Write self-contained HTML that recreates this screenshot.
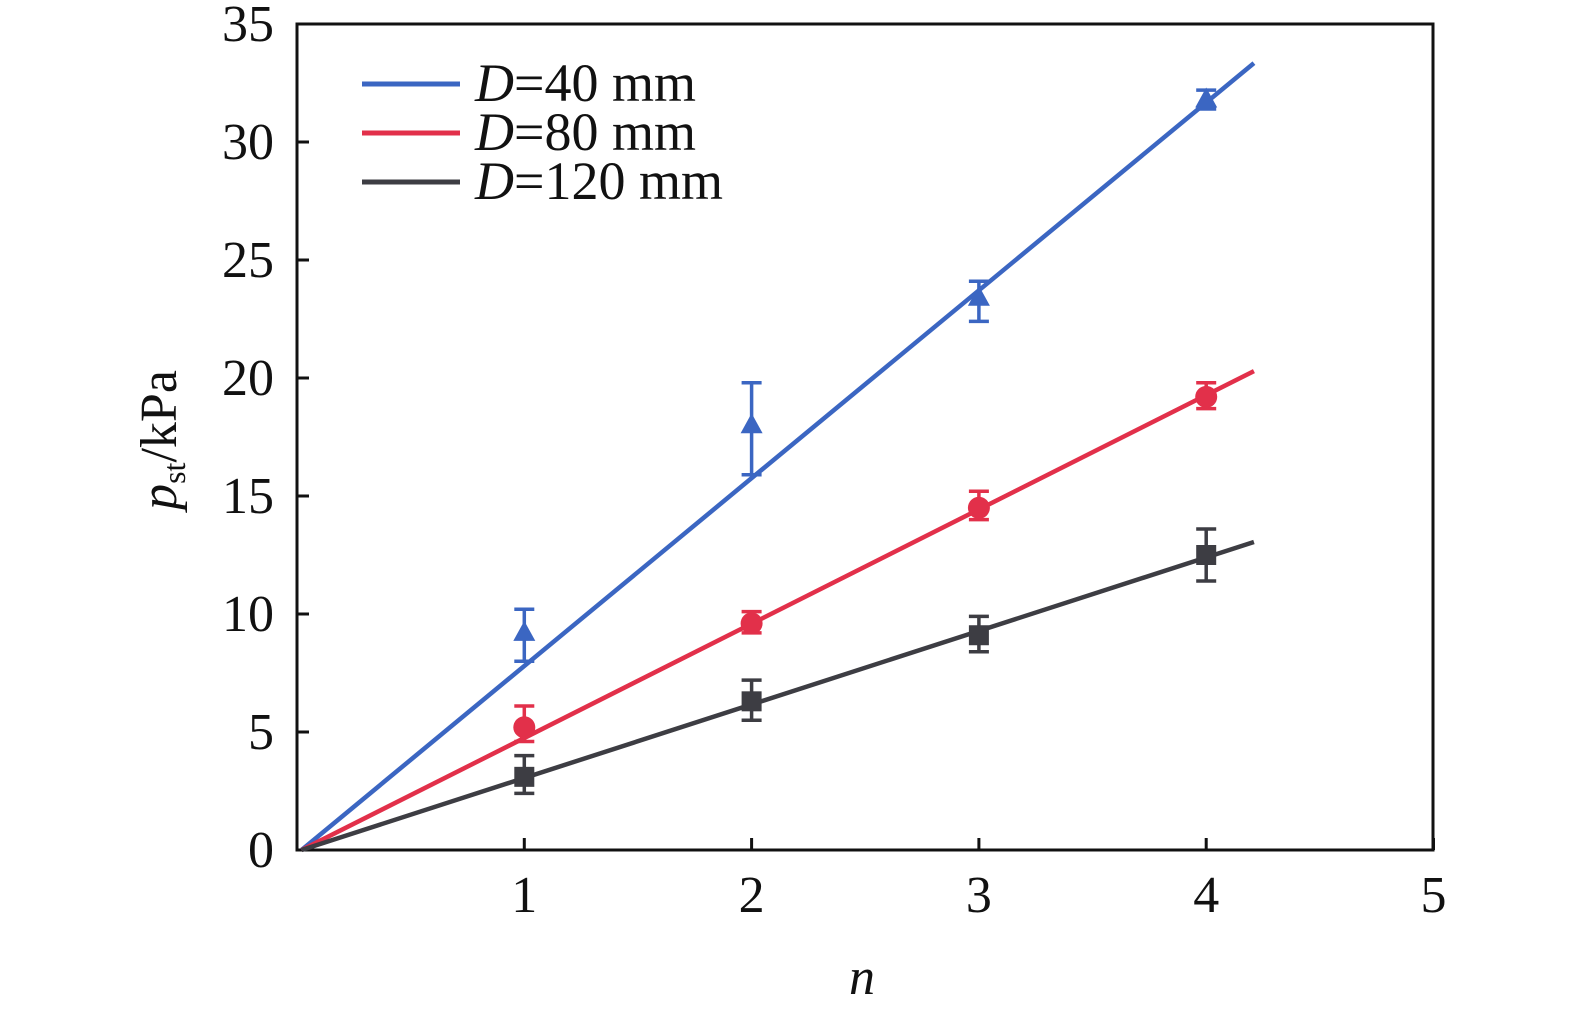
<!DOCTYPE html>
<html><head><meta charset="utf-8"><style>
body{margin:0;background:#fff}
svg text{font-family:"Liberation Serif","Times New Roman",serif;fill:#111}
</style></head><body>
<svg id="c" width="1575" height="1017" xmlns="http://www.w3.org/2000/svg"></svg>
<script>
const categories=[1,2,3,4];
const d40=[9.2,18.0,23.4,31.8];
const d40lo=[8.0,15.9,22.4,31.4];
const d40hi=[10.2,19.8,24.1,32.2];
const d80=[5.2,9.6,14.5,19.2];
const d80lo=[4.6,9.2,14.0,18.7];
const d80hi=[6.1,10.1,15.2,19.8];
const d120=[3.1,6.3,9.1,12.5];
const d120lo=[2.4,5.5,8.4,11.4];
const d120hi=[4.0,7.2,9.9,13.6];
const slopes=[7.92,4.82,3.10];
const xTicks=[1,2,3,4,5];
const yTicks=[0,5,10,15,20,25,30,35];
const legendLabels=["=40 mm","=80 mm","=120 mm"];
const X=v=>297+v*227.3, Y=v=>850-v*23.6;
const svg=document.getElementById('c');
const NS='http://www.w3.org/2000/svg';
function mk(t,a,p){const e=document.createElementNS(NS,t);for(const k in a)e.setAttribute(k,a[k]);(p||svg).appendChild(e);return e;}
let e;
e=mk('rect',{x:297,y:24,width:1136,height:826,fill:'none',stroke:'#111','stroke-width':3});


xTicks.forEach(t=>{
 e=mk('line',{x1:X(t),x2:X(t),y1:850,y2:838,stroke:'#111','stroke-width':3});
 
 
 e=mk('text',{x:X(t),y:912,'font-size':52,'text-anchor':'middle'});e.textContent=t;
 
 
});
yTicks.forEach(t=>{
 e=mk('line',{x1:297,x2:309,y1:Y(t),y2:Y(t),stroke:'#111','stroke-width':3});
 
 
 e=mk('text',{x:274,y:Y(t)+17,'font-size':52,'text-anchor':'end'});e.textContent=t;
 
 
});
e=mk('text',{x:862,y:994,'font-size':52,'font-style':'italic','text-anchor':'middle'});e.textContent='n';


e=mk('text',{transform:'translate(176,440) rotate(-90)','font-size':52,'text-anchor':'middle'});
e.innerHTML='<tspan font-style="italic">p</tspan><tspan font-size="32" dy="9">st</tspan><tspan dy="-9">/kPa</tspan>';


const series=[
 {v:d40,lo:d40lo,hi:d40hi,c:'#3b66c2',m:'tri',n:'d40'},
 {v:d80,lo:d80lo,hi:d80hi,c:'#e2304a',m:'circ',n:'d80'},
 {v:d120,lo:d120lo,hi:d120hi,c:'#3d3d43',m:'sq',n:'d120'}];
series.forEach((s,i)=>{
 e=mk('line',{x1:X(0.02),y1:Y(0),x2:X(4.21),y2:Y(4.21*slopes[i]),stroke:s.c,'stroke-width':4.5});
 
 
 categories.forEach((c,j)=>{
  const x=X(c);
  e=mk('path',{d:`M${x},${Y(s.lo[j])}V${Y(s.hi[j])}M${x-10},${Y(s.lo[j])}H${x+10}M${x-10},${Y(s.hi[j])}H${x+10}`,stroke:s.c,'stroke-width':3.5,fill:'none'});
  
  
  const y=Y(s.v[j]);
  if(s.m==='tri')e=mk('path',{d:`M${x},${y-12}L${x+11},${y+8}L${x-11},${y+8}Z`,fill:s.c});
  else if(s.m==='circ')e=mk('circle',{cx:x,cy:y,r:11,fill:s.c});
  else e=mk('rect',{x:x-10,y:y-10,width:20,height:20,fill:s.c});
  
  
 });
 const ly=84+i*49;
 e=mk('line',{x1:362,x2:460,y1:ly,y2:ly,stroke:s.c,'stroke-width':5});
 
 
 e=mk('text',{x:475,y:ly+17,'font-size':54});
 e.innerHTML='<tspan font-style="italic">D</tspan>'+legendLabels[i];
 
 
});
</script>
</body></html>
